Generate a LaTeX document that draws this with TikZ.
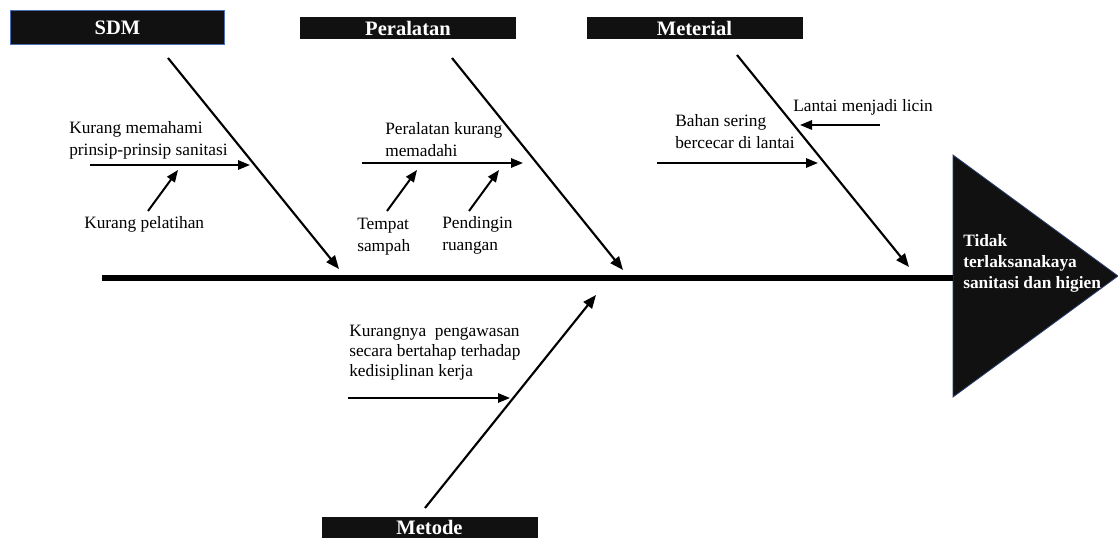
\documentclass[tikz,border=0pt]{standalone}
\usepackage{fontspec}
\setmainfont{Liberation Serif}
\usetikzlibrary{arrows.meta}
\definecolor{boxfill}{HTML}{111111}
\definecolor{boxedge}{HTML}{4A6FB5}
\definecolor{headedge}{HTML}{2B3F73}
\begin{document}
\begin{tikzpicture}[x=0.75pt,y=-0.75pt,
  hdr/.style={fill=boxfill, text=white, font=\fontsize{15.4}{18}\selectfont\bfseries,
              minimum width=162pt, minimum height=16.5pt, inner sep=0pt},
  lbl/.style={anchor=north west, inner sep=0pt, align=left,
              font=\fontsize{13}{16.5}\selectfont},
  bone/.style={line width=1.6pt, -{Triangle[length=10pt,width=8pt]}},
  sub/.style={line width=1.5pt, -{Triangle[length=9pt,width=7pt]}},
  spine/.style={line width=4.5pt}]
\useasboundingbox (0,0) rectangle (1118,538);

% header boxes
\node[hdr, draw=boxedge, line width=0.8pt, minimum width=161pt, minimum height=26pt] (sdm) at (117.5,27.5) {SDM};
\node[hdr] (alat) at (408,28) {Peralatan};
\node[hdr] (mat) at (694.5,28) {Meterial};
\node[hdr, minimum height=15.75pt, text depth=0pt] (met) at (429.5,527.5) {Metode};

% effect head
\draw[fill=boxfill, draw=headedge, line width=0.6pt] (953,155) -- (1118,276) -- (953,397) -- cycle;
\node[lbl, text=white, font=\fontsize{13}{15.8}\selectfont\bfseries] (effect) at (963,234.5)
  {Tidak\\terlaksanakaya\\sanitasi dan higien};

% spine
\coordinate (tail) at (102,278);
\coordinate (head) at (953,278);
\draw[spine] (tail) -- (head);

% main bones
\coordinate (b1s) at (168,58);  \coordinate (b1e) at (339,269);
\coordinate (b2s) at (452,58);  \coordinate (b2e) at (623,270);
\coordinate (b3s) at (737,55);  \coordinate (b3e) at (909,267);
\coordinate (b4s) at (425,508); \coordinate (b4e) at (596,295);
\draw[bone] (b1s) -- (b1e);
\draw[bone] (b2s) -- (b2e);
\draw[bone] (b3s) -- (b3e);
\draw[bone] (b4s) -- (b4e);

% sub causes
\coordinate (s1s) at (90,165);  \coordinate (s1e) at (250,165);
\coordinate (s2s) at (148,211); \coordinate (s2e) at (178,170);
\coordinate (s3s) at (362,163); \coordinate (s3e) at (523,163);
\coordinate (s4s) at (387,211); \coordinate (s4e) at (417,170);
\coordinate (s5s) at (469,211); \coordinate (s5e) at (499,170);
\coordinate (s6s) at (657,163); \coordinate (s6e) at (818,163);
\coordinate (s7s) at (880,125); \coordinate (s7e) at (800,125);
\coordinate (s8s) at (348,398); \coordinate (s8e) at (510,398);
\foreach \i in {1,...,8} {\draw[sub] (s\i s) -- (s\i e);}

% labels
\node[lbl] (t1) at (69,121.5) {Kurang memahami\\prinsip-prinsip sanitasi};
\node[lbl] (t2) at (84,216.5) {Kurang pelatihan};
\node[lbl] (t3) at (385,122.5) {Peralatan kurang\\memadahi};
\node[lbl] (t4) at (357,217.5) {Tempat\\sampah};
\node[lbl] (t5) at (442,216.5) {Pendingin\\ruangan};
\node[lbl] (t6) at (675,114.5) {Bahan sering\\bercecar di lantai};
\node[lbl] (t7) at (793,99.5) {Lantai menjadi licin};
\node[lbl, font=\fontsize{13}{15}\selectfont] (t8) at (349,324.5) {Kurangnya\ \ pengawasan\\secara bertahap terhadap\\kedisiplinan kerja};
\end{tikzpicture}
\end{document}
